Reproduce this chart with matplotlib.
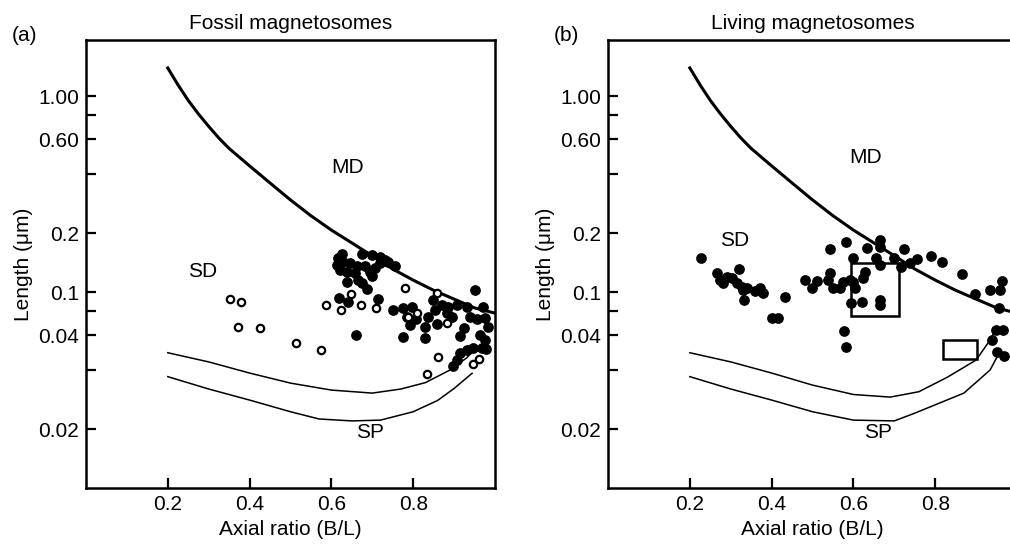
import numpy as np
import matplotlib.pyplot as plt
from matplotlib.patches import Rectangle

plt.rcParams['font.family'] = ['Liberation Sans', 'DejaVu Sans']
plt.rcParams['font.size'] = 15

# MD / SD boundary (same in both panels)
md_x = [0.20, 0.225, 0.25, 0.275, 0.30, 0.325, 0.35, 0.40, 0.45, 0.50, 0.55, 0.60, 0.65, 0.70,
        0.75, 0.80, 0.85, 0.90, 0.95, 1.00]
md_y = [1.39, 1.14, 0.95, 0.81, 0.70, 0.61, 0.54, 0.44, 0.36, 0.295, 0.245, 0.207, 0.178, 0.153,
        0.131, 0.115, 0.102, 0.092, 0.083, 0.078]

# SP boundaries, panel (a)
spa_up_x = [0.2, 0.3, 0.4, 0.5, 0.6, 0.7, 0.77, 0.83, 0.89, 0.93, 0.955]
spa_up_y = [0.049, 0.044, 0.0386, 0.0343, 0.0316, 0.0305, 0.032, 0.0345, 0.040, 0.046, 0.052]
spa_lo_x = [0.2, 0.3, 0.4, 0.5, 0.57, 0.65, 0.72, 0.8, 0.86, 0.9, 0.944]
spa_lo_y = [0.037, 0.032, 0.0281, 0.0245, 0.0225, 0.0220, 0.0222, 0.0245, 0.028, 0.0322, 0.0385]

# SP boundaries, panel (b)
spb_up_x = [0.2, 0.3, 0.4, 0.5, 0.6, 0.69, 0.76, 0.83, 0.9, 0.934, 0.951]
spb_up_y = [0.049, 0.044, 0.0386, 0.0335, 0.030, 0.0291, 0.031, 0.0368, 0.045, 0.0569, 0.0663]
spb_lo_x = [0.2, 0.3, 0.4, 0.5, 0.6, 0.7, 0.75, 0.87, 0.934, 0.951]
spb_lo_y = [0.037, 0.032, 0.0281, 0.0245, 0.0222, 0.022, 0.0241, 0.0305, 0.040, 0.0466]

# fossil magnetosomes: open circles
fos_open_x = [0.352, 0.379, 0.372, 0.425, 0.513, 0.575, 0.587, 0.623, 0.648, 0.672, 0.709,
              0.780, 0.858, 0.787, 0.809, 0.883, 0.861, 0.834, 0.946, 0.961]
fos_open_y = [0.092, 0.089, 0.066, 0.0655, 0.055, 0.0506, 0.0859, 0.081, 0.0977, 0.0859, 0.0828,
              0.105, 0.0989, 0.0745, 0.078, 0.0695, 0.0466, 0.0382, 0.043, 0.0455]

# fossil magnetosomes: filled circles
fos_fill_x = [0.625, 0.617, 0.613, 0.629, 0.645, 0.674, 0.699, 0.719, 0.739, 0.756, 0.662, 0.682,
              0.694, 0.707, 0.621, 0.637, 0.658, 0.666, 0.674, 0.686, 0.699, 0.719, 0.731, 0.637,
              0.619, 0.641, 0.715, 0.750, 0.659, 0.776, 0.796, 0.784, 0.792, 0.807, 0.829, 0.857,
              0.837, 0.853, 0.848, 0.870, 0.886, 0.906, 0.931, 0.951, 0.970, 0.939, 0.955, 0.976,
              0.984, 0.923, 0.914, 0.776, 0.829, 0.963, 0.976, 0.967, 0.947, 0.931, 0.914, 0.906,
              0.898, 0.978, 0.882, 0.894]
fos_fill_y = [0.157, 0.149, 0.137, 0.143, 0.140, 0.157, 0.154, 0.151, 0.143, 0.136, 0.135, 0.135,
              0.127, 0.132, 0.129, 0.127, 0.125, 0.115, 0.111, 0.104, 0.120, 0.140, 0.146, 0.113,
              0.093, 0.089, 0.092, 0.081, 0.060, 0.083, 0.0835, 0.0748, 0.068, 0.0726, 0.0665, 0.0687,
              0.0743, 0.081, 0.091, 0.0858, 0.084, 0.0858, 0.084, 0.102, 0.084, 0.0748, 0.0726, 0.0734,
              0.0665, 0.0653, 0.0597, 0.0591, 0.058, 0.060, 0.0569, 0.0516, 0.0516, 0.0506, 0.0486, 0.045,
              0.0419, 0.0512, 0.0778, 0.0748]

# living magnetosomes
liv_x = [0.227, 0.266, 0.274, 0.290, 0.302, 0.321, 0.315, 0.327, 0.331, 0.333, 0.282, 0.339,
         0.359, 0.379, 0.401, 0.416, 0.433, 0.372, 0.482, 0.499,
         0.512, 0.543, 0.582, 0.633, 0.665, 0.665, 0.724, 0.598, 0.655, 0.665, 0.698, 0.716,
         0.738, 0.756, 0.789, 0.817, 0.865, 0.897, 0.934, 0.958, 0.963, 0.957, 0.543, 0.539,
         0.549, 0.567, 0.574, 0.592, 0.604, 0.600, 0.628, 0.624, 0.620, 0.594, 0.665, 0.665,
         0.578, 0.581, 0.949, 0.965, 0.938, 0.950, 0.968]
liv_y = [0.1486, 0.1245, 0.115, 0.1197, 0.1175, 0.1306, 0.1107, 0.1064, 0.1024, 0.091, 0.1107, 0.1045,
         0.101, 0.099, 0.0737, 0.0737, 0.0943, 0.105, 0.115, 0.105,
         0.114, 0.166, 0.179, 0.167, 0.184, 0.170, 0.165, 0.1486, 0.1486, 0.1374, 0.150, 0.1346,
         0.140, 0.147, 0.1527, 0.1418, 0.123, 0.0973, 0.1024, 0.1024, 0.114, 0.0832, 0.1245, 0.115,
         0.1045, 0.1045, 0.113, 0.115, 0.1045, 0.113, 0.127, 0.1175, 0.0893, 0.0882, 0.091, 0.0858,
         0.0635, 0.0526, 0.064, 0.064, 0.0569, 0.0496, 0.0473]

# boxes in panel (b): x0, x1, y0, y1
box1 = [0.593, 0.712, 0.0755, 0.140]
box2 = [0.820, 0.901, 0.0455, 0.0569]

y_ticks = [1.0, 0.8, 0.6, 0.4, 0.2, 0.1, 0.08, 0.06, 0.04, 0.02]
y_labels = ['1.00', '', '0.60', '', '0.2', '0.1', '', '0.04', '', '0.02']
x_ticks = [0.2, 0.4, 0.6, 0.8]

fig = plt.figure(figsize=(10.1, 5.44), dpi=100)
ax_a = fig.add_axes([0.0851, 0.1029, 0.405, 0.8235])
ax_b = fig.add_axes([0.602, 0.1029, 0.405, 0.8235])


def style(ax, title):
    ax.set_yscale('log')
    ax.set_xlim(0, 1.0)
    ax.set_ylim(0.01, 1.93)
    ax.set_yticks(y_ticks)
    ax.set_yticklabels(y_labels)
    ax.yaxis.set_minor_locator(plt.NullLocator())
    ax.set_xticks(x_ticks)
    ax.set_xticklabels(['0.2', '0.4', '0.6', '0.8'])
    ax.tick_params(direction='in', length=7, width=1.6, labelsize=15, pad=5)
    for s in ax.spines.values():
        s.set_linewidth(1.8)
    ax.set_xlabel('Axial ratio (B/L)', fontsize=15, labelpad=4)
    ax.set_ylabel('Length (\u03bcm)', fontsize=15, labelpad=4)
    ax.set_title(title, fontsize=15, pad=8)
    ax.plot(md_x, md_y, color='black', lw=2.2, zorder=2)


style(ax_a, 'Fossil magnetosomes')
ax_a.plot(spa_up_x, spa_up_y, color='black', lw=1.1)
ax_a.plot(spa_lo_x, spa_lo_y, color='black', lw=1.1)
ax_a.scatter(fos_fill_x, fos_fill_y, s=45, color='black', zorder=3)
ax_a.scatter(fos_open_x, fos_open_y, s=28, facecolor='white', edgecolor='black',
             linewidth=1.6, zorder=4)
ax_a.text(0.64, 0.43, 'MD', ha='center', va='center')
ax_a.text(0.286, 0.128, 'SD', ha='center', va='center')
ax_a.text(0.694, 0.0191, 'SP', ha='center', va='center')

style(ax_b, 'Living magnetosomes')
ax_b.spines['right'].set_visible(False)
ax_b.plot(spb_up_x, spb_up_y, color='black', lw=1.1)
ax_b.plot(spb_lo_x, spb_lo_y, color='black', lw=1.1)
ax_b.scatter(liv_x, liv_y, s=45, color='black', zorder=3)
for bx in (box1, box2):
    ax_b.add_patch(Rectangle((bx[0], bx[2]), bx[1] - bx[0], bx[3] - bx[2],
                             fill=False, edgecolor='black', lw=1.8, zorder=4))
ax_b.text(0.63, 0.483, 'MD', ha='center', va='center')
ax_b.text(0.31, 0.184, 'SD', ha='center', va='center')
ax_b.text(0.66, 0.0191, 'SP', ha='center', va='center')

fig.text(0.012, 0.925, '(a)', fontsize=15)
fig.text(0.548, 0.925, '(b)', fontsize=15)

fig.savefig('out.png', dpi=100)
